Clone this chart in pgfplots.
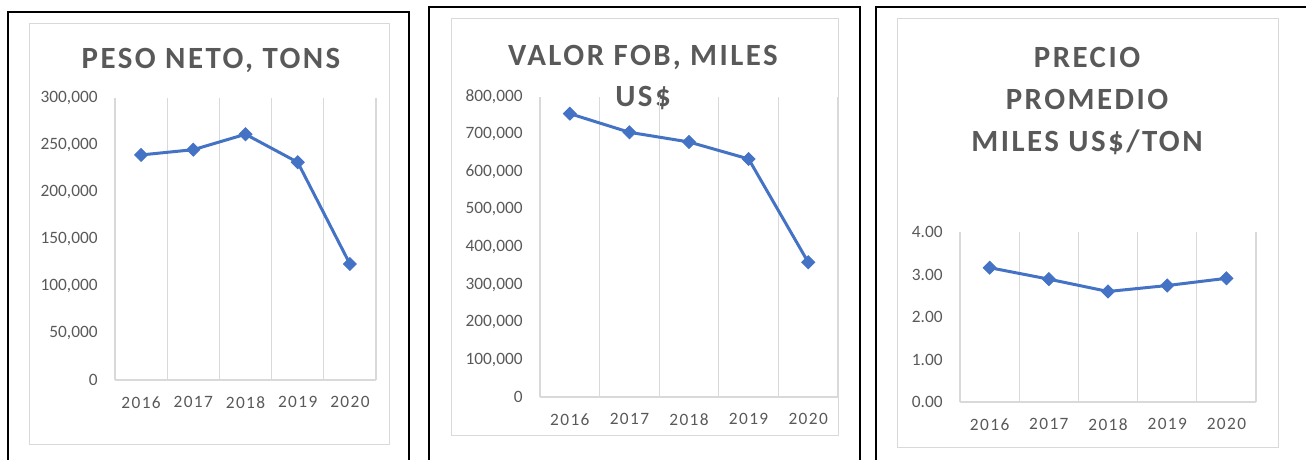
\documentclass[border=0pt]{standalone}
\usepackage{fontspec}
\setmainfont{Carlito}
\usepackage{pgfplots}
\pgfplotsset{compat=1.18}
\definecolor{txt}{HTML}{595959}
\definecolor{grd}{HTML}{D9D9D9}
\definecolor{ln}{HTML}{4472C4}
\newcommand{\ttl}{\fontsize{15.5}{18}\selectfont\bfseries\addfontfeatures{LetterSpace=8}}
\pgfplotsset{
  excel/.style={
    scale only axis,
    xmin=0.5, xmax=5.5, ymin=0,
    xtick={1,2,3,4,5},
    xticklabels={2016,2017,2018,2019,2020},
    minor xtick={0.5,1.5,2.5,3.5,4.5,5.5},
    xminorgrids=true,
    minor grid style={grd, line width=0.6bp},
    axis lines*=left,
    x axis line style={grd, line width=0.6bp},
    y axis line style={draw=none},
    major tick length=0pt, minor tick length=0pt,
    tick style={draw=none},
    scaled y ticks=false,
    /pgf/number format/assume math mode=true,
    yticklabel style={font=\fontsize{8.7}{9}\selectfont, text=txt, inner sep=0pt, anchor=east, xshift=-8.5bp},
    xticklabel style={font=\fontsize{8.7}{9}\selectfont\addfontfeatures{LetterSpace=8}, text=txt, inner sep=0pt, anchor=north, yshift=-8bp},
    clip=false,
  },
  ser/.style={ln, line width=1.5bp, mark=square*, mark size=2.3bp,
    mark options={rotate=45, fill=ln, draw=ln, line width=0.4bp}},
}
\begin{document}
\begin{tikzpicture}[x=0.5bp,y=0.5bp]
\useasboundingbox (0,0) rectangle (1306,460);
% outer black frames
\draw[black, line width=1bp] (8,-10) -- (8,448) -- (409,448) -- (409,-10);
\draw[black, line width=1bp] (429,-10) -- (429,453) -- (860,453) -- (860,-10);
\draw[black, line width=1bp] (876,-10) -- (876,453) -- (1320,453);
% inner gray frames
\draw[grd, line width=0.5bp] (29,15) rectangle (389,436);
\draw[grd, line width=0.5bp] (451,24) rectangle (838,441);
\draw[grd, line width=0.5bp] (897,12) rectangle (1278,441);
% titles
\node[anchor=base, text=txt, inner sep=0pt] at (211,391) {\ttl PESO NETO, TONS};
\node[anchor=base, text=txt, inner sep=0pt] at (643,394) {\ttl VALOR FOB, MILES};
\node[anchor=base, text=txt, inner sep=0pt] at (643,353) {\ttl US\$};
\node[anchor=base, text=txt, inner sep=0pt] at (1087,392) {\ttl PRECIO};
\node[anchor=base, text=txt, inner sep=0pt] at (1087,350) {\ttl PROMEDIO};
\node[anchor=base, text=txt, inner sep=0pt] at (1087,308) {\ttl MILES US\$/TON};
% panel 1
\begin{axis}[excel, at={(57.5bp,40bp)}, anchor=south west, width=130.5bp, height=141bp,
  ymax=300000, ytick={0,50000,100000,150000,200000,250000,300000},
  yticklabel style={/pgf/number format/.cd, fixed, 1000 sep={,}}]
\addplot[ser] coordinates {(1,239400) (2,245000) (3,261400) (4,231600) (5,123400)};
\end{axis}
% panel 2
\begin{axis}[excel, at={(270bp,31.5bp)}, anchor=south west, width=149bp, height=150bp,
  ymax=800000, ytick={0,100000,200000,300000,400000,500000,600000,700000,800000},
  yticklabel style={/pgf/number format/.cd, fixed, 1000 sep={,}}]
\addplot[ser] coordinates {(1,755500) (2,705800) (3,680000) (4,634700) (5,359200)};
\end{axis}
% panel 3
\begin{axis}[excel, at={(480bp,29bp)}, anchor=south west, width=148bp, height=85bp,
  ymax=4, ytick={0,1,2,3,4},
  yticklabel style={/pgf/number format/.cd, fixed, fixed zerofill, precision=2}]
\addplot[ser] coordinates {(1,3.16) (2,2.89) (3,2.60) (4,2.74) (5,2.91)};
\end{axis}
\end{tikzpicture}
\end{document}
